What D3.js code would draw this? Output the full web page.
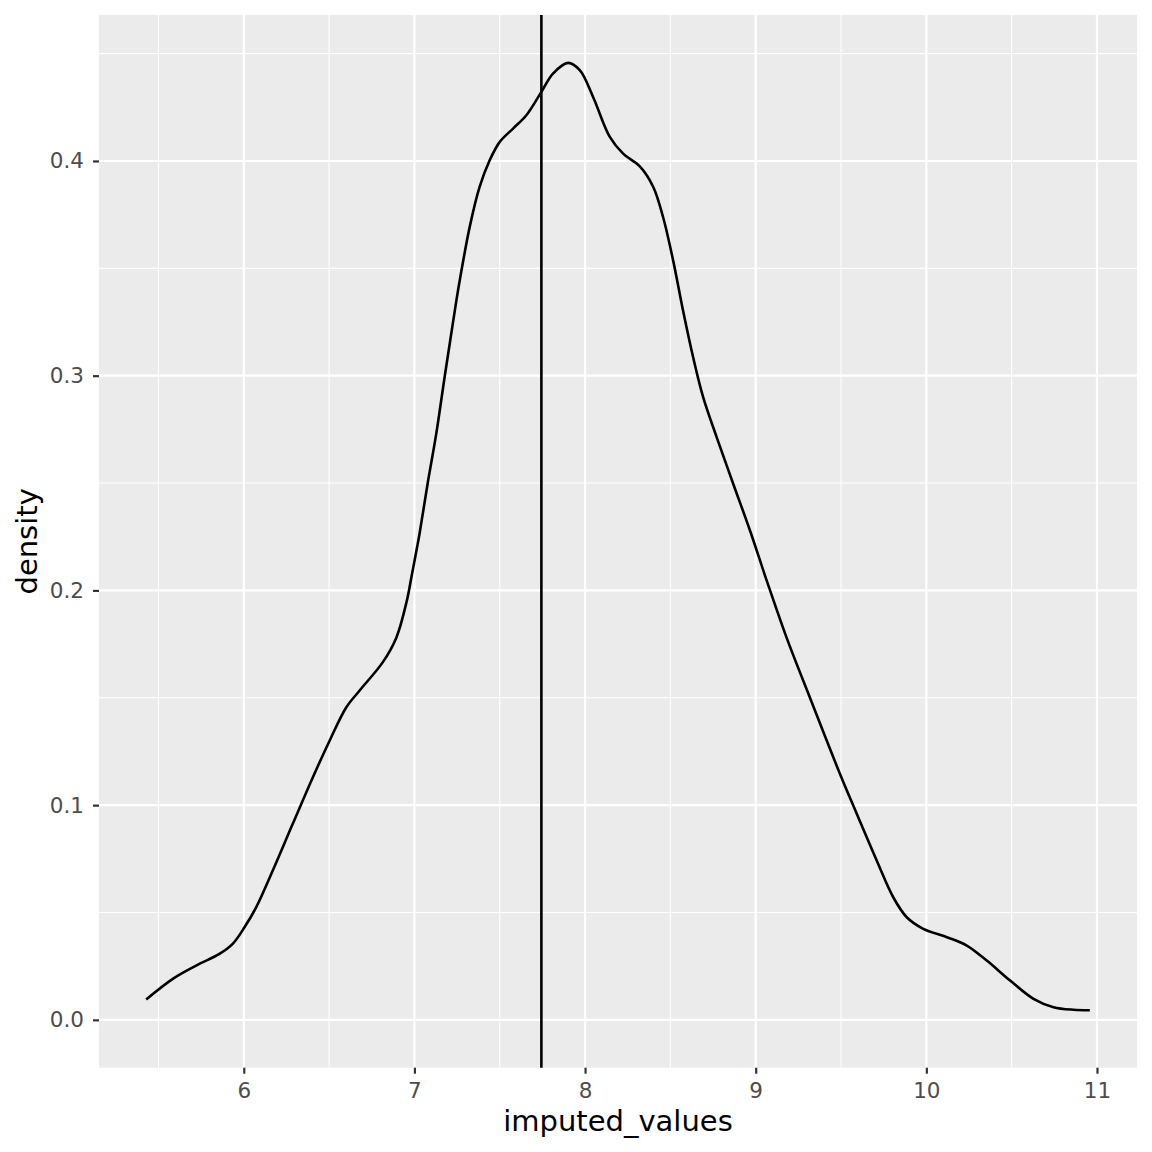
<!DOCTYPE html>
<html><head><meta charset="utf-8">
<script src="https://cdn.jsdelivr.net/npm/d3@7"></script>
<style>body{margin:0;background:#fff}</style>
</head><body>
<svg id="c" width="1152" height="1152"></svg>
<script>
const xValues = [5.428,5.584,5.721,5.857,5.935,6.004,6.073,6.170,6.287,6.405,6.503,6.601,6.679,6.815,6.894,6.955,6.982,7.007,7.030,7.079,7.128,7.177,7.210,7.246,7.268,7.324,7.382,7.441,7.500,7.578,7.656,7.744,7.812,7.900,7.969,8.047,8.145,8.223,8.321,8.399,8.457,8.516,8.575,8.633,8.692,8.771,8.868,8.966,9.064,9.181,9.318,9.494,9.592,9.709,9.806,9.885,9.982,10.120,10.237,10.354,10.491,10.628,10.745,10.862,10.958];
const densityValues = [0.0095,0.0191,0.0253,0.0307,0.0354,0.0431,0.0525,0.0696,0.0913,0.1130,0.1300,0.1456,0.1534,0.1666,0.1780,0.1950,0.2060,0.2165,0.2264,0.2505,0.2730,0.2994,0.3165,0.3351,0.3455,0.3693,0.3879,0.4003,0.4089,0.4151,0.4213,0.4322,0.4407,0.4457,0.4423,0.4298,0.4112,0.4034,0.3975,0.3880,0.3739,0.3537,0.3300,0.3087,0.2900,0.2714,0.2497,0.2280,0.2047,0.1780,0.1500,0.1145,0.0960,0.0742,0.0571,0.0478,0.0424,0.0385,0.0346,0.0276,0.0183,0.0098,0.0059,0.0047,0.0045];
const meanValue = 7.744;
const xTicks = [6,7,8,9,10,11];
const xMinor = [5.5,6.5,7.5,8.5,9.5,10.5];
const yTicks = [0,0.1,0.2,0.3,0.4];
const yMinor = [0.05,0.15,0.25,0.35,0.45];
const xLabel = "imputed_values";
const yLabel = "density";

const panel = {left: 99, right: 1137, top: 15, bottom: 1067.7};
const font = "DejaVu Sans";

const xExt = d3.extent(xValues);
const xPad = (xExt[1]-xExt[0])*0.05;
const yMax = d3.max(densityValues), yMin = 0;
const yPad = (yMax-yMin)*0.05;
const x = d3.scaleLinear().domain([xExt[0]-xPad, xExt[1]+xPad]).range([panel.left, panel.right]);
const y = d3.scaleLinear().domain([yMin-yPad, yMax+yPad]).range([panel.bottom, panel.top]);

const svg = d3.select("#c");
svg.append("rect").attr("x",0).attr("y",0).attr("width",1152).attr("height",1152).attr("fill","#fff");
svg.append("rect").attr("x",panel.left).attr("y",panel.top)
  .attr("width",panel.right-panel.left).attr("height",panel.bottom-panel.top).attr("fill","#EBEBEB");

const grid = svg.append("g");
grid.selectAll(".xm").data(xMinor.filter(v=>x(v)>panel.left && x(v)<panel.right)).join("line")
  .attr("x1",d=>x(d)).attr("x2",d=>x(d)).attr("y1",panel.top).attr("y2",panel.bottom)
  .attr("stroke","#fff").attr("stroke-width",1.1);
grid.selectAll(".ym").data(yMinor.filter(v=>y(v)>panel.top && y(v)<panel.bottom)).join("line")
  .attr("y1",d=>y(d)).attr("y2",d=>y(d)).attr("x1",panel.left).attr("x2",panel.right)
  .attr("stroke","#fff").attr("stroke-width",1.1);
grid.selectAll(".xM").data(xTicks).join("line")
  .attr("x1",d=>x(d)).attr("x2",d=>x(d)).attr("y1",panel.top).attr("y2",panel.bottom)
  .attr("stroke","#fff").attr("stroke-width",2.2);
grid.selectAll(".yM").data(yTicks).join("line")
  .attr("y1",d=>y(d)).attr("y2",d=>y(d)).attr("x1",panel.left).attr("x2",panel.right)
  .attr("stroke","#fff").attr("stroke-width",2.2);

const pts = xValues.map((v,i)=>[v, densityValues[i]]);
const line = d3.line().x(d=>x(d[0])).y(d=>y(d[1])).curve(d3.curveCatmullRom.alpha(0.5));
svg.append("path").datum(pts).attr("d",line).attr("fill","none")
  .attr("stroke","#000").attr("stroke-width",2.6).attr("stroke-linejoin","round");

svg.append("line").attr("x1",x(meanValue)).attr("x2",x(meanValue))
  .attr("y1",panel.top).attr("y2",panel.bottom).attr("stroke","#000").attr("stroke-width",2.6);

// axes
const xAxis = d3.axisBottom(x).tickValues(xTicks).tickSize(6).tickPadding(9).tickFormat(d3.format("d"));
const gx = svg.append("g").attr("transform",`translate(0,${panel.bottom})`).call(xAxis);
gx.select(".domain").remove();
gx.selectAll(".tick line").attr("stroke","#333333").attr("stroke-width",2.2);
gx.selectAll(".tick text").attr("fill","#4D4D4D").attr("font-family",font).attr("font-size",21.5);

const yAxis = d3.axisLeft(y).tickValues(yTicks).tickSize(6).tickPadding(9).tickFormat(d3.format(".1f"));
const gy = svg.append("g").attr("transform",`translate(${panel.left},0)`).call(yAxis);
gy.select(".domain").remove();
gy.selectAll(".tick line").attr("stroke","#333333").attr("stroke-width",2.2);
gy.selectAll(".tick text").attr("fill","#4D4D4D").attr("font-family",font).attr("font-size",21.5);

svg.append("text").attr("x",(panel.left+panel.right)/2).attr("y",1130.5)
  .attr("text-anchor","middle").attr("font-family",font).attr("font-size",29).attr("fill","#000").text(xLabel);
svg.append("text").attr("transform",`translate(36.5,${(panel.top+panel.bottom)/2}) rotate(-90)`)
  .attr("text-anchor","middle").attr("font-family",font).attr("font-size",29).attr("fill","#000").text(yLabel);
</script>
</body></html>
